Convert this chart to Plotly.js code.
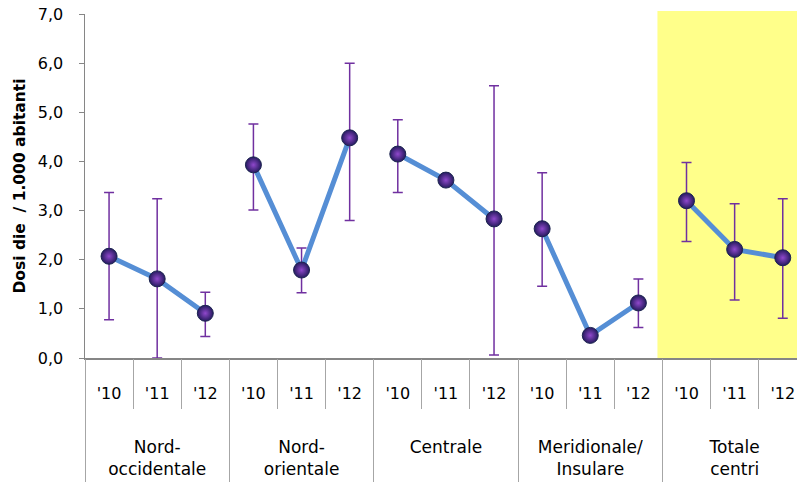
<!DOCTYPE html>
<html>
<head>
<meta charset="utf-8">
<script src="https://cdn.plot.ly/plotly-3.0.1.min.js"></script>
<style>html,body{margin:0;padding:0;background:#fff;}#chart{width:797px;height:482px;}</style>
</head>
<body>
<div id="chart"></div>
<script>
const groups = ["Nord-<br>occidentale", "Nord-<br>orientale", "Centrale", "Meridionale/<br>Insulare", "Totale<br>centri"];
const years = ["'10", "'11", "'12"];
const values = [2.07, 1.61, 0.91, 3.93, 1.79, 4.48, 4.15, 3.62, 2.83, 2.63, 0.46, 1.12, 3.20, 2.21, 2.04];
const upper  = [3.37, 3.24, 1.34, 4.76, 2.24, 6.00, 4.85, 3.62, 5.54, 3.77, 0.46, 1.61, 3.98, 3.14, 3.24];
const lower  = [0.78, 0.00, 0.44, 3.01, 1.33, 2.80, 3.37, 3.62, 0.06, 1.46, 0.46, 0.62, 2.37, 1.18, 0.81];
const yTitle = "Dosi die  / 1.000 abitanti";

const FONT = "'DejaVu Sans', sans-serif";
const N = values.length, G = years.length;
const XR = [-0.5, 14.296];

const traces = groups.map((g, gi) => {
  const idx = years.map((_, yi) => gi * G + yi);
  return {
    type: "scatter",
    mode: "lines+markers",
    x: idx,
    y: idx.map(i => values[i]),
    error_y: {
      type: "data",
      symmetric: false,
      array: idx.map(i => upper[i] - values[i]),
      arrayminus: idx.map(i => values[i] - lower[i]),
      color: "#7030A0",
      thickness: 1.5,
      width: 5
    },
    line: {color: "#558ED5", width: 5},
    marker: {
      size: 16,
      color: "#251a5e",
      gradient: {type: "radial", color: "#9048cc"},
      line: {color: "#1c2550", width: 1}
    },
    showlegend: false,
    hoverinfo: "y"
  };
});
// empty helper traces so the overlaying label/divider axes are drawn
["x2", "x3", "x4"].forEach(ax => traces.push({
  type: "scatter", mode: "markers", x: [], y: [], xaxis: ax, yaxis: "y",
  showlegend: false, hoverinfo: "skip"
}));

const catIdx = values.map((_, i) => i);
const catBounds = values.map((_, i) => i - 0.5).concat([N - 0.5]);
const grpBounds = groups.map((_, gi) => gi * G - 0.5).concat([N - 0.5]);
const grpCenters = groups.map((_, gi) => gi * G + (G - 1) / 2);

const tf = {family: FONT, size: 16, color: "#000"};
const layout = {
  width: 797, height: 482,
  margin: {l: 85, r: 0, t: 14, b: 124},
  paper_bgcolor: "#fff", plot_bgcolor: "rgba(0,0,0,0)",
  separators: ",.",
  font: tf,
  showlegend: false,
  xaxis: {
    range: XR,
    tickmode: "array", tickvals: catIdx, ticktext: catIdx.map(i => years[i % G]),
    ticks: "", ticklabelstandoff: 20,
    showline: true, linecolor: "#868686", linewidth: 1.5,
    showgrid: false, zeroline: false, tickfont: tf
  },
  xaxis2: {
    overlaying: "x", anchor: "y", side: "bottom", range: XR,
    tickmode: "array", tickvals: catBounds, showticklabels: false,
    ticks: "outside", ticklen: 50, tickcolor: "#a6a6a6", tickwidth: 1,
    showline: false, showgrid: false, zeroline: false
  },
  xaxis3: {
    overlaying: "x", anchor: "y", side: "bottom", range: XR,
    tickmode: "array", tickvals: grpBounds, showticklabels: false,
    ticks: "outside", ticklen: 124, tickcolor: "#a6a6a6", tickwidth: 1,
    showline: false, showgrid: false, zeroline: false
  },
  xaxis4: {
    overlaying: "x", anchor: "y", side: "bottom", range: XR,
    tickmode: "array", tickvals: grpCenters, ticktext: groups,
    ticks: "", ticklabelstandoff: 77,
    showline: false, showgrid: false, zeroline: false,
    tickfont: {family: FONT, size: 17, color: "#000"}
  },
  yaxis: {
    range: [0, 7], dtick: 1, tickformat: ".1f",
    showline: true, linecolor: "#868686", linewidth: 1.5,
    ticks: "outside", ticklen: 5, tickcolor: "#868686",
    ticklabelstandoff: 12,
    showgrid: false, zeroline: false,
    tickfont: tf,
    title: {text: "\u00a0\u00a0\u00a0\u00a0\u00a0\u00a0" + yTitle, font: {family: FONT, size: 15.5, color: "#000", weight: "bold"}, standoff: 8}
  },
  shapes: [{
    type: "rect", layer: "below",
    xref: "paper", yref: "paper",
    x0: 0.804, x1: 1, y0: 0, y1: 1.009,
    fillcolor: "#ffff8a", line: {width: 0}
  }]
};

Plotly.newPlot("chart", traces, layout, {displayModeBar: false, staticPlot: true});
</script>
</body>
</html>
